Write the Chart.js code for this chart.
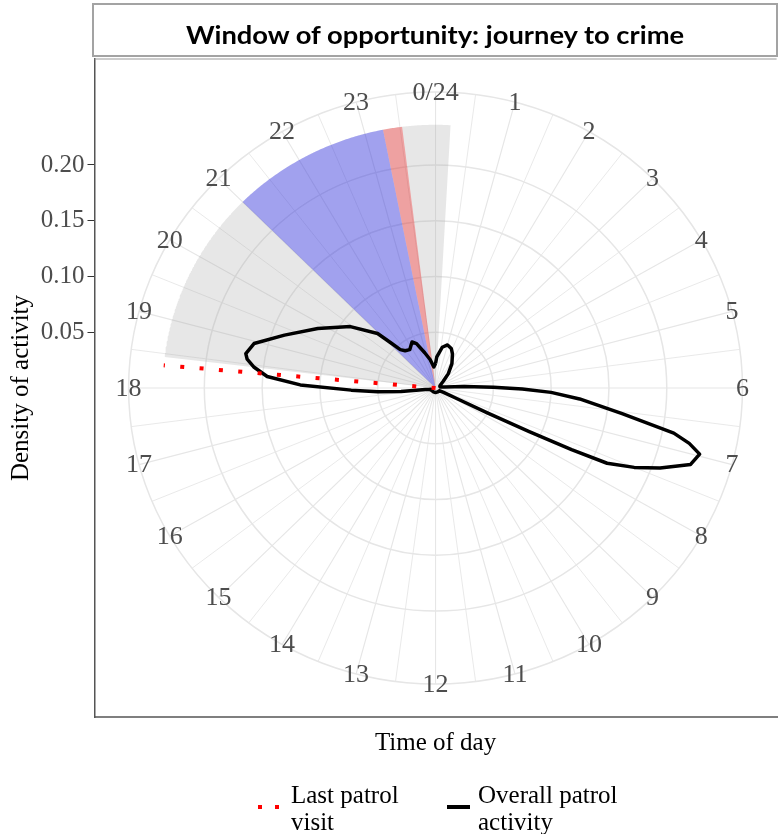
<!DOCTYPE html>
<html><head><meta charset="utf-8">
<script src="https://cdn.jsdelivr.net/npm/chart.js@4.4.1/dist/chart.umd.min.js"></script>
<style>
html,body{margin:0;padding:0;background:#fff;}
#wrap{position:relative;width:778px;height:834px;overflow:hidden;background:#fff;}
#chart{position:absolute;left:0;top:0;}
#titlebox{position:absolute;left:92px;top:3px;width:686px;height:54px;box-sizing:border-box;border:2px solid #a3a3a3;background:#fff;}
#titletext{position:absolute;left:0;top:14px;width:100%;text-align:center;font:bold 25px Lato;line-height:30px;color:#000;white-space:nowrap;transform-origin:50% 50%;}
.leg{position:absolute;font:25px "Liberation Serif";line-height:27px;color:#000;white-space:pre;}
.dot{position:absolute;width:4px;height:4px;background:#ff0000;}
</style></head>
<body><div id="wrap">
<canvas id="chart" width="778" height="834"></canvas>
<div id="titlebox"><div id="titletext"></div></div>
<div class="dot" style="left:258px;top:805px"></div>
<div class="dot" style="left:275px;top:805px"></div>
<div class="leg" id="leg1" style="left:291px;top:781px"></div>
<div style="position:absolute;left:447px;top:805px;width:23px;height:4px;background:#000"></div>
<div class="leg" id="leg2" style="left:478px;top:781px"></div>
</div>
<script>
// ---------- DATA ----------
const chartTitle = 'Window of opportunity: journey to crime';
const xTitle = 'Time of day';
const yTitle = 'Density of activity';
const legendLabels = ['Last patrol\nvisit', 'Overall patrol\nactivity'];
const hourLabels = ['0/24','1','2','3','4','5','6','7','8','9','10','11','12','13','14','15','16','17','18','19','20','21','22','23'];
const radialTicks = [0.05, 0.10, 0.15, 0.20];

// overall patrol activity density (hour of day, density)
const densityHours = [0.0, 0.15, 0.6, 1.0, 1.4, 1.7, 2.2, 2.7, 3.2, 3.8, 4.5, 5.2, 5.6, 5.8, 5.95, 6.05, 6.15, 6.3, 6.54, 6.74, 6.85, 6.97, 7.15, 7.35, 7.5, 7.63, 7.68, 7.72, 7.76, 7.82, 8.0, 8.5, 10.0, 12.0, 14.0, 16.0, 17.0, 17.2, 17.4, 17.6, 17.75, 17.9, 18.09, 18.27, 18.45, 18.6, 18.71, 18.95, 19.33, 19.84, 20.45, 20.95, 21.1, 21.23, 21.45, 21.8, 22.0, 22.25, 22.5, 22.9, 23.3, 23.7];
const densityValues = [0.022, 0.028, 0.037, 0.040, 0.038, 0.034, 0.026, 0.017, 0.009, 0.005, 0.004, 0.004, 0.008, 0.025, 0.050, 0.075, 0.100, 0.125, 0.163, 0.210, 0.225, 0.236, 0.231, 0.207, 0.186, 0.163, 0.130, 0.090, 0.050, 0.020, 0.008, 0.004, 0.004, 0.004, 0.004, 0.004, 0.004, 0.006, 0.009, 0.030, 0.050, 0.073, 0.117, 0.146, 0.158, 0.165, 0.167, 0.162, 0.139, 0.115, 0.092, 0.070, 0.055, 0.046, 0.0425, 0.041, 0.043, 0.046, 0.043, 0.033, 0.026, 0.019];

// shaded windows (start hour, end hour, radius)
const windowNames = ['window', 'journey', 'crime'];
const windowStart = [18.45, 21.0, 23.26];
const windowEnd = [24.21, 23.26, 23.53];
const windowRadius = [0.236, 0.236, 0.236];

// last patrol visit
const lastPatrolHour = 18.33;
const lastPatrolRadius = [0, 0.236];

// ---------- GEOMETRY HELPERS ----------
const RMAX = Math.max(...densityValues, ...windowRadius);   // ggplot: data max -> 0.4
const R_OUT = RMAX * 0.45 / 0.4;                            // outer ring
const AX = RMAX * 0.5 / 0.4;                                // panel half-size
const ang = h => h / 24 * 2 * Math.PI;
const toXY = (h, r) => ({x: r * Math.sin(ang(h)), y: r * Math.cos(ang(h))});

const densityPts = densityHours.map((h, i) => toXY(h, densityValues[i]));
densityPts.push(toXY(densityHours[0] + 24, densityValues[0]));

function sectorPts(h1, h2, r) {
  const pts = [{x: 0, y: 0}];
  const n = Math.ceil((h2 - h1) / 0.02);
  for (let k = 0; k <= n; k++) pts.push(toXY(h1 + (h2 - h1) * k / n, r));
  pts.push({x: 0, y: 0});
  return pts;
}
const patrolPts = lastPatrolRadius.map(r => toXY(lastPatrolHour, r));

// ---------- TEXT ----------
document.getElementById('titletext').textContent = chartTitle;
document.getElementById('leg1').textContent = legendLabels[0];
document.getElementById('leg2').textContent = legendLabels[1];
(function () {
  const m = document.createElement('canvas').getContext('2d');
  m.font = 'bold 25px Lato';
  const w = m.measureText(chartTitle).width;
  document.getElementById('titletext').style.transform = 'scaleX(' + (500 / w) + ')';
})();

// ---------- PLUGINS ----------
const polarGrid = {
  id: 'polarGrid',
  beforeDatasetsDraw(chart) {
    const {ctx, scales: {x, y}} = chart;
    const cx = x.getPixelForValue(0), cy = y.getPixelForValue(0);
    ctx.save();
    ctx.strokeStyle = '#e6e6e6';
    // spokes every half hour
    for (let k = 0; k < 48; k++) {
      const p = toXY(k * 0.5, R_OUT);
      ctx.lineWidth = (k % 2 === 0) ? 1.1 : 0.9;
      ctx.beginPath();
      ctx.moveTo(cx, cy);
      ctx.lineTo(x.getPixelForValue(p.x), y.getPixelForValue(p.y));
      ctx.stroke();
    }
    ctx.lineWidth = 1.5;
    [...radialTicks, R_OUT].forEach(r => {
      const rx = x.getPixelForValue(r) - cx;
      const ry = cy - y.getPixelForValue(r);
      ctx.beginPath();
      ctx.ellipse(cx, cy, rx, ry, 0, 0, 2 * Math.PI);
      ctx.stroke();
    });
    ctx.restore();
  },
  afterDraw(chart) {
    const {ctx, chartArea: a, scales: {x, y}} = chart;
    ctx.save();
    // hour labels
    ctx.font = '26px "Liberation Serif"';
    ctx.fillStyle = '#4d4d4d';
    ctx.textAlign = 'center';
    ctx.textBaseline = 'middle';
    hourLabels.forEach((lab, i) => {
      const p = toXY(i, R_OUT);
      ctx.fillText(lab, x.getPixelForValue(p.x), y.getPixelForValue(p.y) + 1);
    });
    // panel lines
    ctx.strokeStyle = '#9a9a9a';
    ctx.lineWidth = 1.2;
    ctx.beginPath(); ctx.moveTo(a.left, a.top); ctx.lineTo(a.right, a.top); ctx.stroke();
    ctx.strokeStyle = '#555';
    ctx.lineWidth = 1.5;
    ctx.beginPath(); ctx.moveTo(a.left, a.bottom); ctx.lineTo(a.right + 2, a.bottom); ctx.stroke();
    ctx.restore();
  }
};

const serif = 'Liberation Serif';
const sectorFill = ['rgba(160,160,160,0.25)', 'rgba(0,0,255,0.3)', 'rgba(255,0,0,0.3)'];

const datasets = [
  {label: 'last patrol', data: patrolPts, showLine: true, borderColor: '#ff0000', borderWidth: 4,
   borderDash: [4, 15.4], borderCapStyle: 'butt', pointRadius: 0, fill: false, order: 0},
  {label: 'overall', data: densityPts, showLine: true, borderColor: '#000', borderWidth: 3.5,
   borderJoinStyle: 'round', pointRadius: 0, fill: false, tension: 0, order: 1},
];
windowNames.forEach((nm, i) => {
  datasets.push({label: nm, data: sectorPts(windowStart[i], windowEnd[i], windowRadius[i]),
    showLine: true, borderWidth: 0, borderColor: 'rgba(0,0,0,0)', backgroundColor: sectorFill[i],
    pointRadius: 0, fill: 'shape', order: 4 - i});
});

new Chart(document.getElementById('chart'), {
  type: 'scatter',
  data: {datasets},
  options: {
    responsive: false,
    animation: false,
    devicePixelRatio: 1,
    layout: {padding: {top: 59, right: 1.4, bottom: 72, left: 0}},
    plugins: {legend: {display: false}, tooltip: {enabled: false}},
    scales: {
      x: {
        type: 'linear', min: -AX, max: AX,
        ticks: {display: false}, grid: {display: false}, border: {display: false},
        title: {display: true, text: xTitle, color: '#000', font: {family: serif, size: 25}, padding: {top: 0, bottom: 4}},
        afterFit: s => { s.height = 45; }
      },
      y: {
        type: 'linear', min: -AX, max: AX,
        afterBuildTicks: s => { s.ticks = radialTicks.map(v => ({value: v})); },
        ticks: {callback: v => Number(v).toFixed(2), color: '#4d4d4d', font: {family: serif, size: 25}, padding: 3, autoSkip: false},
        grid: {drawOnChartArea: false, drawTicks: true, tickLength: 7, color: '#333'},
        border: {display: true, color: '#555', width: 1.5},
        title: {display: true, text: yTitle, color: '#000', font: {family: serif, size: 25}, padding: {top: 6, bottom: 0}},
        afterFit: s => { s.width = 94.5; }
      }
    }
  },
  plugins: [polarGrid]
});
</script>
</body></html>
